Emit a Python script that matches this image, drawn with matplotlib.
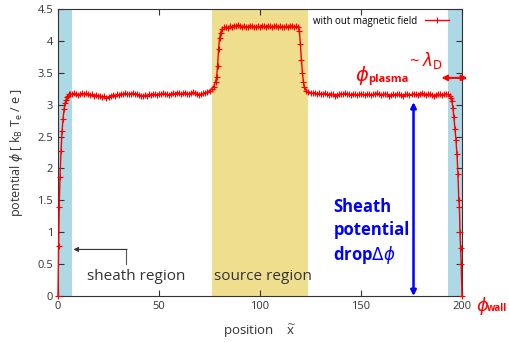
import numpy as np
import matplotlib
matplotlib.use("Agg")
import matplotlib.pyplot as plt

# potential profile
x_left = [0, 0.3, 0.6, 1.0, 1.5, 2.0, 2.5, 3.0, 3.5, 4.0, 4.5, 5.0, 5.5, 6.0]
phi_left = [0.0, 0.78, 1.40, 1.87, 2.28, 2.58, 2.78, 2.93, 3.02, 3.08, 3.12, 3.14, 3.16, 3.17]

x_plat1 = np.arange(7, 77)
phi_plat1 = [3.16, 3.18, 3.17, 3.15, 3.16, 3.18, 3.17, 3.18, 3.16, 3.15,
             3.16, 3.14, 3.15, 3.13, 3.14, 3.12, 3.13, 3.11, 3.12, 3.14,
             3.15, 3.14, 3.16, 3.15, 3.17, 3.16, 3.18, 3.17, 3.16, 3.17,
             3.18, 3.16, 3.17, 3.15, 3.14, 3.13, 3.15, 3.14, 3.16, 3.15,
             3.17, 3.16, 3.15, 3.17, 3.16, 3.18, 3.17, 3.16, 3.15, 3.17,
             3.18, 3.17, 3.19, 3.18, 3.16, 3.18, 3.19, 3.17, 3.16, 3.18,
             3.20, 3.18, 3.17, 3.15, 3.16, 3.18, 3.19, 3.20, 3.22, 3.24]

x_rise = [77, 78, 78.5, 79, 79.5, 80, 80.5, 81, 82]
phi_rise = [3.28, 3.36, 3.43, 3.60, 3.88, 4.05, 4.12, 4.18, 4.21]

x_src = np.arange(83, 120)
phi_src = [4.22, 4.20, 4.23, 4.22, 4.24, 4.23, 4.25, 4.24, 4.22, 4.23,
           4.21, 4.22, 4.24, 4.23, 4.22, 4.21, 4.23, 4.22, 4.24, 4.23,
           4.22, 4.24, 4.23, 4.22, 4.23, 4.24, 4.22, 4.23, 4.21, 4.22,
           4.23, 4.22, 4.24, 4.23, 4.22, 4.23, 4.21]

x_drop = [119.5, 120, 120.5, 121, 121.5, 122, 123, 124]
phi_drop = [4.15, 3.95, 3.70, 3.50, 3.35, 3.27, 3.22, 3.20]

x_plat2 = np.arange(125, 194)
phi_plat2 = [3.19, 3.18, 3.19, 3.17, 3.18, 3.16, 3.17, 3.18, 3.16, 3.15,
             3.17, 3.16, 3.14, 3.15, 3.16, 3.17, 3.16, 3.18, 3.17, 3.16,
             3.15, 3.17, 3.16, 3.15, 3.16, 3.17, 3.16, 3.15, 3.17, 3.16,
             3.15, 3.16, 3.17, 3.18, 3.16, 3.15, 3.16, 3.17, 3.16, 3.14,
             3.15, 3.16, 3.15, 3.17, 3.16, 3.15, 3.14, 3.16, 3.17, 3.15,
             3.16, 3.17, 3.16, 3.15, 3.17, 3.18, 3.16, 3.15, 3.16, 3.17,
             3.15, 3.14, 3.15, 3.17, 3.16, 3.15, 3.16, 3.17, 3.16]

x_right = [194, 194.5, 195, 195.5, 196, 196.5, 197, 197.5, 198, 198.4,
           198.7, 199, 199.3, 199.6, 200]
phi_right = [3.14, 3.10, 3.05, 2.95, 2.80, 2.62, 2.45, 2.22, 1.92, 1.50,
             1.40, 1.00, 0.76, 0.50, 0.0]

x = np.concatenate([x_left, x_plat1, x_rise, x_src, x_drop, x_plat2, x_right])
phi = np.concatenate([phi_left, phi_plat1, phi_rise, phi_src, phi_drop, phi_plat2, phi_right])

# shaded regions
sheath_left = (0, 7)
sheath_right = (193, 200)
source = (76, 124)

plt.rcParams['font.family'] = ['Open Sans', 'DejaVu Sans']

fig = plt.figure(figsize=(5.09, 3.42), dpi=100)
ax = fig.add_axes([58 / 509, 46 / 342, 404 / 509, 287 / 342])

ax.axvspan(*sheath_left, color='#add8e6', lw=0, zorder=0)
ax.axvspan(*sheath_right, color='#add8e6', lw=0, zorder=0)
ax.axvspan(*source, color='#f0de8f', lw=0, zorder=0)

ax.plot(x, phi, color='red', lw=1.0, marker='+', ms=4.5, mew=0.8,
        label='with out magnetic field', zorder=3, clip_on=False)

ax.set_xlim(0, 200)
ax.set_ylim(0, 4.5)
ax.set_xticks([0, 50, 100, 150, 200])
ax.set_yticks([0, 0.5, 1, 1.5, 2, 2.5, 3, 3.5, 4, 4.5])
ax.set_yticklabels(['0', '0.5', '1', '1.5', '2', '2.5', '3', '3.5', '4', '4.5'])
ax.tick_params(direction='in', top=True, right=True, length=4, labelsize=8,
               labelcolor='#333333', color='#333333')
for s in ax.spines.values():
    s.set_color('#333333')

ax.set_ylabel(r'potential $\phi$ [ k$_{\mathregular{B}}$ T$_{\mathregular{e}}$ / e ]',
              fontsize=9, color='#333333', labelpad=9)
ax.set_xlabel(r'position    $\widetilde{\mathregular{x}}$', fontsize=9.5,
              color='#333333', labelpad=8)

ax.legend(loc='upper right', frameon=False, fontsize=7, markerfirst=False,
          handlelength=2.5, borderaxespad=0.3, bbox_to_anchor=(0.985, 1.0))

# phi_plasma and phi_wall: big phi plus bold subscript
t_pl = ax.text(146.8, 3.45, r'$\phi$', color='red', fontsize=14,
               va='center', ha='left')
ax.annotate('plasma', xy=(0.95, 0.1), xycoords=t_pl, color='red', fontsize=8,
            fontweight='bold', va='bottom', ha='left')
t_w = ax.text(206.8, -0.15, r'$\phi$', color='red', fontsize=13,
              va='center', ha='left', clip_on=False)
ax.annotate('wall', xy=(0.85, 0.1), xycoords=t_w, color='red', fontsize=7,
            fontweight='bold', va='bottom', ha='left', annotation_clip=False)

ax.text(174, 3.7, r'~ $\lambda_{\mathrm{D}}$', color='red', fontsize=12,
        va='center', ha='left')
ax.annotate('', xy=(202.7, 3.42), xytext=(189.8, 3.42),
            arrowprops=dict(arrowstyle='<|-|>', color='red', lw=1.5,
                            mutation_scale=8, shrinkA=0, shrinkB=0),
            annotation_clip=False)
ax.annotate('', xy=(176, 3.04), xytext=(176, 0),
            arrowprops=dict(arrowstyle='<|-|>', color='blue', lw=1.8,
                            mutation_scale=8, shrinkA=0, shrinkB=0))
ax.text(136.3, 1.0, 'Sheath\npotential\ndrop$\\mathit{\\Delta}\\phi$', color='blue',
        fontsize=12, fontweight='bold', va='center', ha='left', linespacing=1.35)

ax.text(14.2, 0.31, 'sheath region', fontsize=11, color='#333333',
        va='center', ha='left')
ax.text(77.1, 0.31, 'source region', fontsize=11, color='#333333',
        va='center', ha='left')
ax.plot([33.9, 33.9], [0.50, 0.73], color='#555555', lw=0.8)
ax.annotate('', xy=(7.6, 0.73), xytext=(34.2, 0.73),
            arrowprops=dict(arrowstyle='-|>', color='#333333', lw=0.8,
                            mutation_scale=7, shrinkA=0, shrinkB=0))

fig.savefig('out.png', dpi=100)
